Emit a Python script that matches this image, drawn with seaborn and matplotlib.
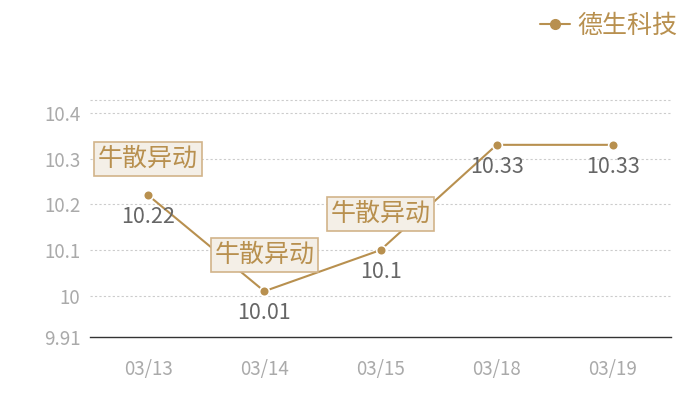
import matplotlib
matplotlib.use("Agg")
import matplotlib.pyplot as plt
import seaborn as sns
import pandas as pd

dates = ["03/13", "03/14", "03/15", "03/18", "03/19"]
prices = [10.22, 10.01, 10.1, 10.33, 10.33]
series_name = "德生科技"
flag_dates = ["03/13", "03/14", "03/15"]
flag_text = "牛散异动"
yticks = [9.91, 10, 10.1, 10.2, 10.3, 10.4]
ytick_labels = ["9.91", "10", "10.1", "10.2", "10.3", "10.4"]

sns.set_theme(style="white")
plt.rcParams["font.family"] = ["Noto Sans CJK SC", "DejaVu Sans"]

gold = "#b8904f"
df = pd.DataFrame({"date": dates, "price": prices, "name": series_name})

fig = plt.figure(figsize=(7, 4), dpi=100)
ax = fig.add_axes([90/700, 1-337/400, (671-90)/700, (337-100)/400])

sns.lineplot(data=df, x="date", y="price", ax=ax, color=gold, linewidth=1.5,
             marker="o", markersize=7, markeredgecolor="white", markeredgewidth=1.2,
             sort=False, legend=False)

ax.set_xlim(-0.5, len(dates) - 0.5)
ax.set_ylim(9.91, 10.428)
ax.set_yticks(yticks)
ax.set_yticklabels(ytick_labels)
ax.set_xlabel("")
ax.set_ylabel("")
for v in yticks[1:]:
    ax.axhline(v, color="#cccccc", linestyle=(0, (2, 2)), linewidth=0.8, zorder=0)
ax.axhline(10.428, color="#cccccc", linestyle=(0, (2, 2)), linewidth=0.8, zorder=0, clip_on=False)

for s in ["top", "right", "left"]:
    ax.spines[s].set_visible(False)
ax.spines["bottom"].set_color("#333333")
ax.spines["bottom"].set_linewidth(1.0)
ax.tick_params(axis="both", length=0, colors="#aaaaaa", labelsize=13.5)
ax.tick_params(axis="x", pad=16)
ax.tick_params(axis="y", pad=7)

for i, (d, p) in enumerate(zip(dates, prices)):
    ax.annotate(f"{p:g}", (i, p), xytext=(0, -8), textcoords="offset points",
                ha="center", va="top", fontsize=15.5, color="#666666")
    if d in flag_dates:
        ax.annotate(flag_text, (i, p), xytext=(0, 26), textcoords="offset points",
                    ha="center", va="center", fontsize=18, color=gold,
                    bbox=dict(boxstyle="square,pad=0.15", fc="#f4efe7", ec="#d2b48a", lw=1.2))

# legend
ax.plot([], [], color=gold, marker="o", markersize=7, linewidth=1.5, label=series_name)
leg = ax.legend(loc="upper right", bbox_to_anchor=(690/700, 1.0), bbox_transform=fig.transFigure,
                frameon=False, fontsize=18, handlelength=1.2, handletextpad=0.3,
                borderaxespad=0.1)
for t in leg.get_texts():
    t.set_color(gold)

fig.savefig("out.png", dpi=100)
